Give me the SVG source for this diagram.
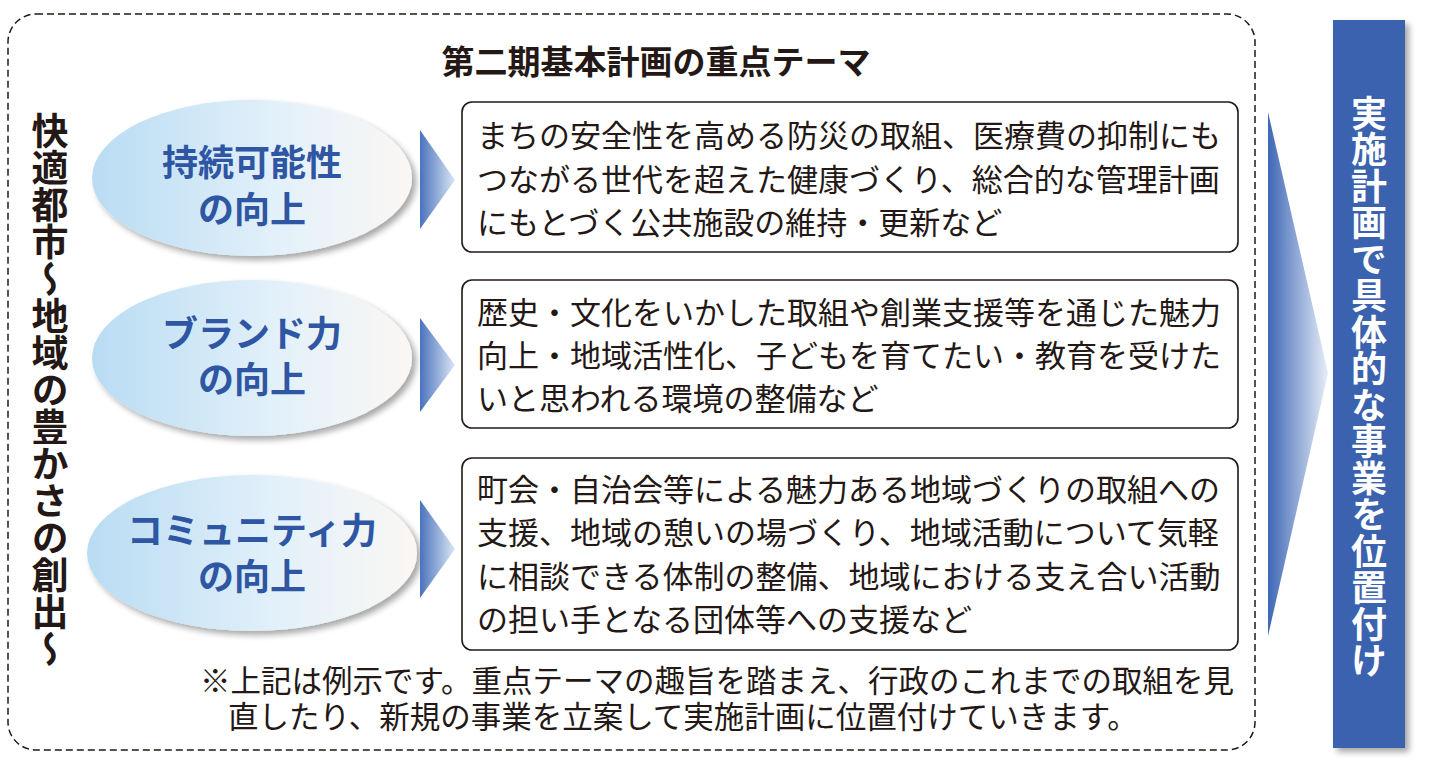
<svg xmlns="http://www.w3.org/2000/svg" width="1433" height="763" viewBox="0 0 1433 763">
<style>
text{font-family:"Noto Sans CJK JP","Noto Sans CJK SC",sans-serif;}
.b{font-size:31px;fill:#231815;}
.n{font-size:30.5px;fill:#231815;}
.el{font-size:36px;font-weight:bold;fill:#2f56a3;text-anchor:middle;}
.box{fill:#fff;stroke:#231815;stroke-width:1.6;}
.tri{fill:url(#tg);}
.ell{fill:url(#eg);}
</style>
<defs>
<linearGradient id="eg" x1="0" y1="0" x2="1" y2="0"><stop offset="0" stop-color="#b9dcf3"/><stop offset="0.6" stop-color="#e4f1fa"/><stop offset="1" stop-color="#fbf7f3"/></linearGradient>
<linearGradient id="tg" x1="0" y1="0" x2="1" y2="0"><stop offset="0" stop-color="#4a73bd"/><stop offset="1" stop-color="#dbe6f5"/></linearGradient>
<linearGradient id="bg" x1="0" y1="0" x2="1" y2="0"><stop offset="0" stop-color="#3f67b5"/><stop offset="1" stop-color="#e6eef8"/></linearGradient>
<filter id="sh" x="-20%" y="-20%" width="140%" height="140%"><feGaussianBlur in="SourceAlpha" stdDeviation="3"/><feOffset dx="4" dy="4"/><feComponentTransfer><feFuncA type="linear" slope="0.35"/></feComponentTransfer><feMerge><feMergeNode/><feMergeNode in="SourceGraphic"/></feMerge></filter>
</defs>
<rect width="1433" height="763" fill="#fff"/>
<rect x="8" y="14" width="1247" height="736" rx="28" fill="none" stroke="#231815" stroke-width="1.5" stroke-dasharray="7,4"/>
<text x="656" y="74" font-size="33" font-weight="bold" text-anchor="middle" fill="#231815">第二期基本計画の重点テーマ</text>
<text x="50" y="112" font-size="37" font-weight="bold" fill="#231815" writing-mode="vertical-rl">快適都市～地域の豊かさの創出～</text>
<g id="n1">
<ellipse class="ell" cx="252" cy="178" rx="160" ry="78" filter="url(#sh)"/>
<text class="el" x="252" y="176">持続可能性</text><text class="el" x="252" y="223">の向上</text>
<polygon class="tri" points="420,130 455,180 420,229"/>
<rect class="box" x="462" y="102" width="776" height="150" rx="10"/>
<text class="b" x="477" y="147">まちの安全性を高める防災の取組、医療費の抑制にも</text>
<text class="b" x="477" y="191">つながる世代を超えた健康づくり、総合的な管理計画</text>
<text class="b" x="477" y="234">にもとづく公共施設の維持・更新など</text>
</g>
<g id="n2">
<ellipse class="ell" cx="252" cy="358" rx="160" ry="78" filter="url(#sh)"/>
<text class="el" x="252" y="347">ブランド力</text><text class="el" x="252" y="393">の向上</text>
<polygon class="tri" points="420,318 455,365 420,412"/>
<rect class="box" x="462" y="280" width="776" height="148" rx="10"/>
<text class="b" x="477" y="324">歴史・文化をいかした取組や創業支援等を通じた魅力</text>
<text class="b" x="477" y="367">向上・地域活性化、子どもを育てたい・教育を受けた</text>
<text class="b" x="477" y="410">いと思われる環境の整備など</text>
</g>
<g id="n3">
<ellipse class="ell" cx="252" cy="553" rx="165" ry="78" filter="url(#sh)"/>
<text class="el" x="252" y="544">コミュニティ力</text><text class="el" x="252" y="590">の向上</text>
<polygon class="tri" points="420,500 455,549 420,598"/>
<rect class="box" x="462" y="458" width="776" height="192" rx="10"/>
<text class="b" x="477" y="501">町会・自治会等による魅力ある地域づくりの取組への</text>
<text class="b" x="477" y="544">支援、地域の憩いの場づくり、地域活動について気軽</text>
<text class="b" x="477" y="588">に相談できる体制の整備、地域における支え合い活動</text>
<text class="b" x="477" y="631">の担い手となる団体等への支援など</text>
</g>
<text class="n" x="200" y="692">※上記は例示です。重点テーマの趣旨を踏まえ、行政のこれまでの取組を見</text>
<text class="n" x="228" y="728">直したり、新規の事業を立案して実施計画に位置付けていきます。</text>
<g id="connectors">
<polygon points="1268,112 1328,373 1268,636" fill="url(#bg)"/>
</g>
<g id="plan">
<rect x="1333" y="20" width="72" height="728" fill="#3a62ae" filter="url(#sh)"/>
<text x="1369" y="95" font-size="36" font-weight="bold" fill="#fff" writing-mode="vertical-rl" letter-spacing="0.5">実施計画で具体的な事業を位置付け</text>
</g>
</svg>
